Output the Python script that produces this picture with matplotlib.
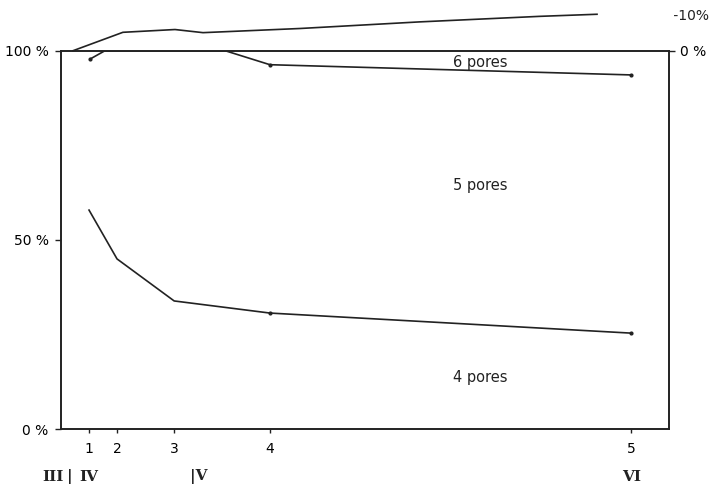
import numpy as np
import matplotlib.pyplot as plt

# stage positions on the time axis
stage_x = [1.0, 2.0, 4.04, 7.46, 20.36]
stage_labels = ['1', '2', '3', '4', '5']

# lower boundary: 4 pores / 5 pores (left axis, %)
x_four = [1.0, 2.0, 4.04, 7.46, 20.36]
y_four = [57.9, 45.0, 33.9, 30.7, 25.4]

# upper boundary: 5 pores / 6 pores (left axis, %)
x_six = [1.04, 1.57, 5.86, 7.46, 20.36]
y_six = [97.8, 100.0, 100.0, 96.3, 93.6]

# top curve (right axis, %)
x_top = [0.43, 2.21, 4.07, 5.07, 8.54, 12.8, 17.1, 19.14]
y_top = [0.0, -5.3, -6.1, -5.2, -6.4, -8.3, -9.9, -10.5]

col = '#222222'
plt.rcParams['font.family'] = ['DejaVu Sans']

fig = plt.figure(figsize=(7.12, 4.87), dpi=100)
ax = fig.add_axes([0.0857, 0.1185, 0.8539, 0.7774])

ax.plot(x_four, y_four, '-', color=col, lw=1.2)
ax.plot(x_four[3:], y_four[3:], 'o', color=col, ms=2)
ax.plot(x_six, y_six, '-', color=col, lw=1.2)
ax.plot([x_six[0], x_six[3], x_six[4]], [y_six[0], y_six[3], y_six[4]], 'o', color=col, ms=2)

ax.set_xlim(0, 21.71)
ax.set_ylim(0, 100)
ax.set_xticks(stage_x)
ax.set_xticklabels(stage_labels, fontsize=10)
ax.set_yticks([0, 50, 100])
ax.set_yticklabels(['0 %', '50 %', '100 %'], fontsize=10)
ax.tick_params(axis='x', direction='out', length=3, width=1, color=col, pad=6)
ax.tick_params(axis='y', direction='out', length=4, width=1, color=col, pad=5)
for s in ax.spines.values():
    s.set_color(col)
    s.set_linewidth(1.2)

# right axis for the top curve: 0 % at the top, -10 % above the frame
ax2 = ax.twinx()
ax2.set_ylim(109.1, 0)
ax2.plot(x_top, y_top, '-', color=col, lw=1.2, clip_on=False)
ax2.set_yticks([0])
ax2.set_yticklabels(['0 %'], fontsize=10)
ax2.tick_params(axis='y', direction='out', length=4, width=1, color=col, pad=4)
ax2.text(1.0, -10, ' -10%', transform=ax2.get_yaxis_transform(),
         fontsize=10, va='center', ha='left', color=col)
for s in ax2.spines.values():
    s.set_color(col)
    s.set_linewidth(1.2)

# region labels
ax.text(14.96, 97.0, '6 pores', fontsize=10.5, ha='center', va='center', color=col)
ax.text(14.96, 64.3, '5 pores', fontsize=10.5, ha='center', va='center', color=col)
ax.text(14.96, 13.8, '4 pores', fontsize=10.5, ha='center', va='center', color=col)

# stage numerals under the axis
tr = ax.get_xaxis_transform()
for xr, s in [(-0.29, 'III'), (0.32, '|'), (1.0, 'IV'), (4.93, '|V'), (20.36, 'VI')]:
    ax.text(xr, -0.126, s, transform=tr, ha='center', va='center',
            fontsize=11, family='DejaVu Serif', fontweight='bold', color=col)

fig.savefig('out.png', dpi=100)
